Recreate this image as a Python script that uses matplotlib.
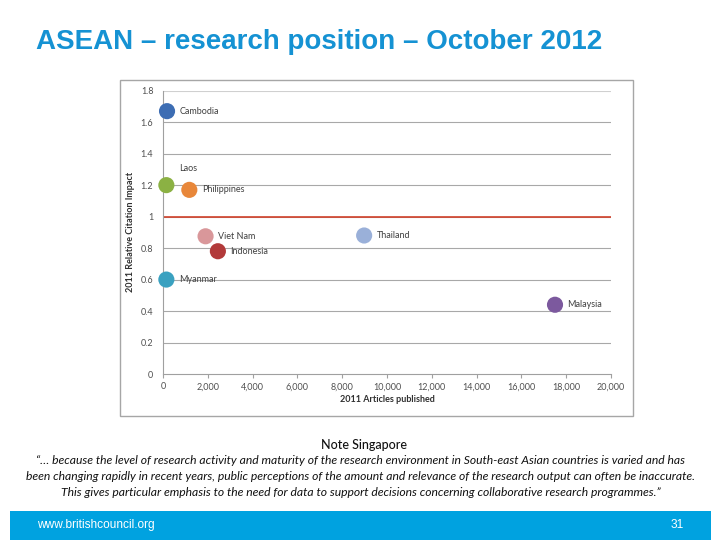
import matplotlib
matplotlib.use("Agg")
import matplotlib.pyplot as plt
from matplotlib.patches import Rectangle

countries = ["Cambodia", "Laos", "Philippines", "Viet Nam", "Indonesia", "Thailand", "Myanmar", "Malaysia"]
articles = [180, 150, 1175, 1900, 2450, 8980, 150, 17500]
impact = [1.67, 1.20, 1.17, 0.875, 0.78, 0.88, 0.60, 0.44]
colors = ["#3d6db3", "#8bb143", "#e8873a", "#d9979a", "#b23a3a", "#9ab0d9", "#3aa1c0", "#7c599e"]
x_ticks = [0, 2000, 4000, 6000, 8000, 10000, 12000, 14000, 16000, 18000, 20000]
y_ticks = [0, 0.2, 0.4, 0.6, 0.8, 1.0, 1.2, 1.4, 1.6, 1.8]
y_tick_labels = ["0", "0.2", "0.4", "0.6", "0.8", "1", "1.2", "1.4", "1.6", "1.8"]

fig = plt.figure(figsize=(7.2, 5.4), dpi=100)
W, H = 720, 540

def fx(px):
    return px / W

def fy(py):
    return 1 - py / H

# Title
fig.text(fx(36), fy(42), "ASEAN \u2013 research position \u2013 October 2012",
         fontsize=20, fontweight="bold", color="#1592d3",
         family="Liberation Sans", va="center", ha="left")

# Chart frame
fig.patches.append(Rectangle((fx(120), fy(416)), fx(633) - fx(120), fy(80) - fy(416),
                             transform=fig.transFigure, fill=False,
                             edgecolor="#a6a6a6", linewidth=1.0))

ax = fig.add_axes([fx(163), fy(374), fx(611) - fx(163), fy(90.7) - fy(374)])
ax.set_xlim(0, 20000)
ax.set_ylim(0, 1.8)
for yv in y_ticks[1:]:
    ax.axhline(yv, color="#d0d0d0" if yv > 1.7 else "#a8a8a8", linewidth=0.8, zorder=1)
ax.axhline(1.0, color="#d0402a", linewidth=1.2, zorder=2)

ax.scatter(articles, impact, s=135, c=colors, zorder=3, linewidths=0, clip_on=False)

for name, xv, yv in zip(countries, articles, impact):
    if name == "Laos":
        ax.annotate(name, (xv, yv), xytext=(9, 12), textcoords="offset points",
                    fontsize=6.5, color="#404040", va="center", ha="left", family="Lato")
    else:
        ax.annotate(name, (xv, yv), xytext=(9, 0), textcoords="offset points",
                    fontsize=6.5, color="#404040", va="center", ha="left", family="Lato")

ax.set_xticks(x_ticks)
ax.set_xticklabels([f"{v:,}" for v in x_ticks], fontsize=6.5, color="#505050", family="Lato")
ax.set_yticks(y_ticks)
ax.set_yticklabels(y_tick_labels, fontsize=6.5, color="#505050", family="Lato")
ax.tick_params(axis="y", length=0, pad=7)
ax.tick_params(axis="x", length=3, color="#a0a0a0", pad=3)
for s in ["top", "right"]:
    ax.spines[s].set_visible(False)
ax.spines["left"].set_color("#a0a0a0")
ax.spines["bottom"].set_color("#a0a0a0")
ax.set_xlabel("2011 Articles published", fontsize=6.5, fontweight="bold", color="#303030",
              family="Lato", labelpad=3)
ax.set_ylabel("2011 Relative Citation Impact", fontsize=6.5, fontweight="bold", color="#303030",
              family="Lato", labelpad=4)

# Notes
fig.text(0.505, fy(445), "Note Singapore", fontsize=9, color="#111111", ha="center", va="center",
         family="Lato", fontweight="medium")
quote = ["\u201c\u2026 because the level of research activity and maturity of the research environment in South-east Asian countries is varied and has",
         "been changing rapidly in recent years, public perceptions of the amount and relevance of the research output can often be inaccurate.",
         "This gives particular emphasis to the need for data to support decisions concerning collaborative research programmes.\u201d"]
for i, line in enumerate(quote):
    fig.text(0.501, fy(461 + 15.5 * i), line, fontsize=8.7, style="italic", color="#111111",
             ha="center", va="center", family="Lato")

# Footer band
fig.patches.append(Rectangle((fx(10), 0), fx(711) - fx(10), fy(511), transform=fig.transFigure,
                             facecolor="#00a2e0", edgecolor="none"))
fig.text(fx(37), fy(525), "www.britishcouncil.org", fontsize=8.6, color="white", va="center",
         ha="left", family="Liberation Sans")
fig.text(fx(684), fy(525), "31", fontsize=8.6, color="white", va="center", ha="right",
         family="Liberation Sans")

fig.savefig("out.png", dpi=100)
